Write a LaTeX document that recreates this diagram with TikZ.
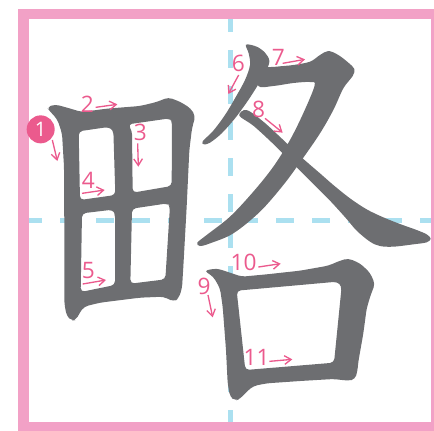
\documentclass[tikz,border=0pt]{standalone}
\usepackage{fontspec}
\setsansfont{Open Sans}
\usetikzlibrary{arrows.meta}
\definecolor{marco}{HTML}{F2A1C6}
\definecolor{guia}{HTML}{ABE0F0}
\definecolor{trazo}{HTML}{6D6E71}
\definecolor{orden}{HTML}{EB5A8D}
\begin{document}
\begin{tikzpicture}[x=0.25pt,y=-0.25pt,line width=1pt,>={Straight Barb[length=5pt,width=6.5pt]},
  num/.style={text=orden,font=\sffamily\fontsize{17}{17}\selectfont,inner sep=0pt}]
  \useasboundingbox (0,0) rectangle (1302,1290);
  % guias y marco
  \draw[guia,line width=3.75pt,dash pattern=on 13.5pt off 13.5pt] (690,42) -- (690,1290);
  \draw[guia,line width=3.75pt,dash pattern=on 13.5pt off 13.5pt] (72,660) -- (1302,660);
  \draw[marco,line width=7.9pt] (70.5,42) rectangle (1308,1281);
  % ta
  \fill[trazo,even odd rule,rounded corners=3pt]
    (140,322) -- (165,313) -- (205,324) -- (245,336) -- (320,326) -- (420,318) -- (470,306)
    -- (505,292) -- (540,305) -- (572,325) -- (586,348) -- (576,385) -- (568,450) -- (560,620)
    -- (550,800) -- (546,865) -- (536,895) -- (522,905) -- (490,890) -- (420,893) -- (300,908)
    -- (252,920) -- (238,940) -- (228,960) -- (215,962) -- (200,948) -- (193,910) -- (193,700)
    -- (192,500) -- (186,400) -- (172,358) -- (150,334) -- cycle
    (236,394) -- (325,381) -- (340,390) -- (346,585) -- (240,600) -- cycle
    (384,373) -- (510,355) -- (516,363) -- (515,558) -- (398,578) -- (396,392) -- cycle
    (246,640) -- (338,629) -- (345,640) -- (345,855) -- (242,876) -- cycle
    (396,626) -- (503,610) -- (510,617) -- (496,838) -- (391,851) -- cycle;
  % fuyu
  \fill[trazo] plot[smooth cycle,tension=0.55] coordinates {(738,134) (770,140) (795,158) (808,182)
    (800,210) (780,245) (745,300) (705,355) (665,400) (630,428) (612,433) (608,424) (640,392)
    (675,345) (705,295) (735,240) (750,195) (746,160)};
  \fill[trazo] plot[smooth cycle,tension=0.55] coordinates {(780,208) (830,200) (880,195) (930,185)
    (960,165) (985,153) (1015,165) (1045,188) (1063,207) (1058,228) (1030,265) (1000,330)
    (960,400) (905,480) (850,555) (780,635) (700,700) (630,730) (600,738) (592,728) (620,705)
    (690,650) (760,575) (820,500) (870,420) (912,335) (944,256) (930,246) (880,249) (820,258)
    (775,258)};
  \fill[trazo] plot[smooth cycle,tension=0.55] coordinates {(718,347) (740,330) (790,365) (850,420)
    (900,468) (960,520) (1000,555) (1050,595) (1100,628) (1150,652) (1200,672) (1250,690)
    (1280,703) (1292,716) (1280,727) (1240,733) (1180,740) (1140,738) (1110,725) (1070,692)
    (1040,657) (990,602) (940,552) (880,492) (820,432) (760,377)};
  % kuchi
  \fill[trazo,even odd rule,rounded corners=3pt]
    (612,812) -- (650,805) -- (690,818) -- (725,830) -- (800,823) -- (900,812) -- (985,797)
    -- (1020,782) -- (1045,775) -- (1080,790) -- (1110,818) -- (1125,852) -- (1112,885)
    -- (1100,925) -- (1090,1000) -- (1075,1085) -- (1072,1115) -- (1065,1138) -- (1045,1142)
    -- (1000,1137) -- (900,1143) -- (800,1150) -- (760,1158) -- (740,1175) -- (720,1197)
    -- (705,1202) -- (690,1190) -- (683,1150) -- (678,1050) -- (668,920) -- (660,865)
    -- (640,830) -- cycle
    (710,872) -- (1012,845) -- (1025,858) -- (1002,1088) -- (736,1110) -- cycle;
  % orden de trazos
  \node[circle,fill=orden,text=white,minimum size=21pt,inner sep=0pt,
    font=\sffamily\fontsize{15}{15}\selectfont] (n1) at (122,388) {1};
  \coordinate (a1) at (157,420); \coordinate (b1) at (172,483);
  \draw[orden,->] (a1) -- (b1);
  \foreach \n/\x/\y/\ax/\ay/\bx/\by in {2/262/314/287/322/352/313, 3/421/398/413/430/415/500,
      4/265/541/246/580/314/570, 5/265/811/248/852/318/840, 6/715/189/716/225/685/282,
      7/835/171/848/190/915/178, 8/776/327/795/355/848/398, 9/612/860/624/885/638/952,
      10/731/787/775/801/842/791, 11/770/1072/808/1084/877/1078}{
    \node[num] (n\n) at (\x,\y) {\n};
    \coordinate (a\n) at (\ax,\ay); \coordinate (b\n) at (\bx,\by);
    \draw[orden,->] (a\n) -- (b\n);}
\end{tikzpicture}
\end{document}
